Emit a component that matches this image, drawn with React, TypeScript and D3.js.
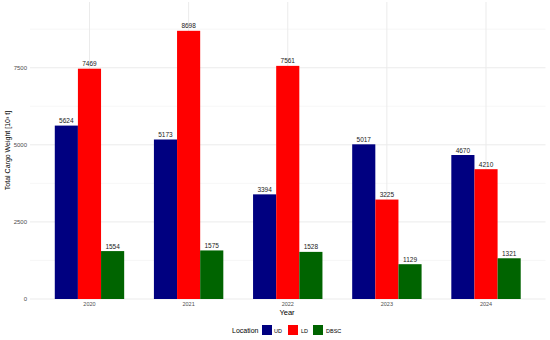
// @ts-nocheck
import React from "react";
import * as d3 from "d3";

const years = ["2020", "2021", "2022", "2023", "2024"];
const locations = ["UD", "LD", "DBSC"];
const udValues = [5624, 5173, 3394, 5017, 4670];
const ldValues = [7469, 8698, 7561, 3225, 4210];
const dbscValues = [1554, 1575, 1528, 1129, 1321];
const yTicks = [0, 2500, 5000, 7500];
const yMinor = [1250, 3750, 6250, 8750];
const colors = ["#000080", "#FF0000", "#006400"];

const App = () => {
  document.body.style.margin = "0";
  const width = 550;
  const height = 340;
  const left = 30;
  const right = 545.5;
  const top = 2;
  const bottom = 299;

  const x = d3.scalePoint().domain(years).range([left, right]).padding(0.6);
  const groupW = x.step() * 0.7;
  const x1 = d3.scaleBand().domain(locations).range([-groupW / 2, groupW / 2]);
  const y = d3.scaleLinear().domain([0, 9600]).range([bottom, 3]);

  const series = [udValues, ldValues, dbscValues];
  const bars = [];
  years.forEach((yr, i) => {
    locations.forEach((loc, j) => {
      bars.push({ yr, loc, j, value: series[j][i] });
    });
  });

  const legendItems = [
    { loc: "UD", kx: 262, tx: 274 },
    { loc: "LD", kx: 288, tx: 301 },
    { loc: "DBSC", kx: 313, tx: 326 },
  ];

  return (
    <svg width={width} height={height} style={{ display: "block", fontFamily: "Liberation Sans, Arial, sans-serif" }}>
      <rect width={width} height={height} fill="white" />
      {/* grid */}
      {yMinor.map((t) => (
        <line key={"m" + t} x1={left} x2={right} y1={y(t)} y2={y(t)} stroke="#f2f2f2" strokeWidth={0.6} />
      ))}
      {yTicks.map((t) => (
        <line key={"g" + t} x1={left} x2={right} y1={y(t)} y2={y(t)} stroke="#ebebeb" strokeWidth={1} />
      ))}
      {years.map((yr) => (
        <line key={"v" + yr} x1={x(yr)} x2={x(yr)} y1={top} y2={bottom} stroke="#ebebeb" strokeWidth={1} />
      ))}
      {/* bars */}
      {bars.map((d) => (
        <rect
          key={d.yr + d.loc}
          x={x(d.yr) + x1(d.loc)}
          y={y(d.value)}
          width={x1.bandwidth()}
          height={y(0) - y(d.value)}
          fill={colors[d.j]}
        />
      ))}
      {bars.map((d) => (
        <text
          key={"l" + d.yr + d.loc}
          x={x(d.yr) + x1(d.loc) + x1.bandwidth() / 2}
          y={y(d.value) - 2.5}
          textAnchor="middle"
          fontSize={6.5}
          fill="#222"
        >
          {d.value}
        </text>
      ))}
      {/* y axis */}
      {yTicks.map((t) => (
        <text key={"yt" + t} x={27} y={y(t) + 2} textAnchor="end" fontSize={6} fill="#4d4d4d">
          {t}
        </text>
      ))}
      {years.map((yr) => (
        <text key={"xt" + yr} x={x(yr)} y={306} textAnchor="middle" fontSize={5.5} fill="#4d4d4d">
          {yr}
        </text>
      ))}
      <text x={287} y={315} textAnchor="middle" fontSize={7.5} fill="#000">
        Year
      </text>
      <text
        transform={`translate(10,${(top + bottom) / 2}) rotate(-90)`}
        textAnchor="middle"
        fontSize={7}
        fill="#000"
      >
        Total Cargo Weight [10³ t]
      </text>
      {/* legend */}
      <text x={232} y={333} fontSize={7} fill="#000">
        Location
      </text>
      {legendItems.map((it, i) => (
        <g key={it.loc}>
          <rect x={it.kx} y={325} width={10} height={10} fill={colors[i]} />
          <text x={it.tx} y={333} fontSize={5.5} fill="#000">
            {it.loc}
          </text>
        </g>
      ))}
    </svg>
  );
};

export default App;
